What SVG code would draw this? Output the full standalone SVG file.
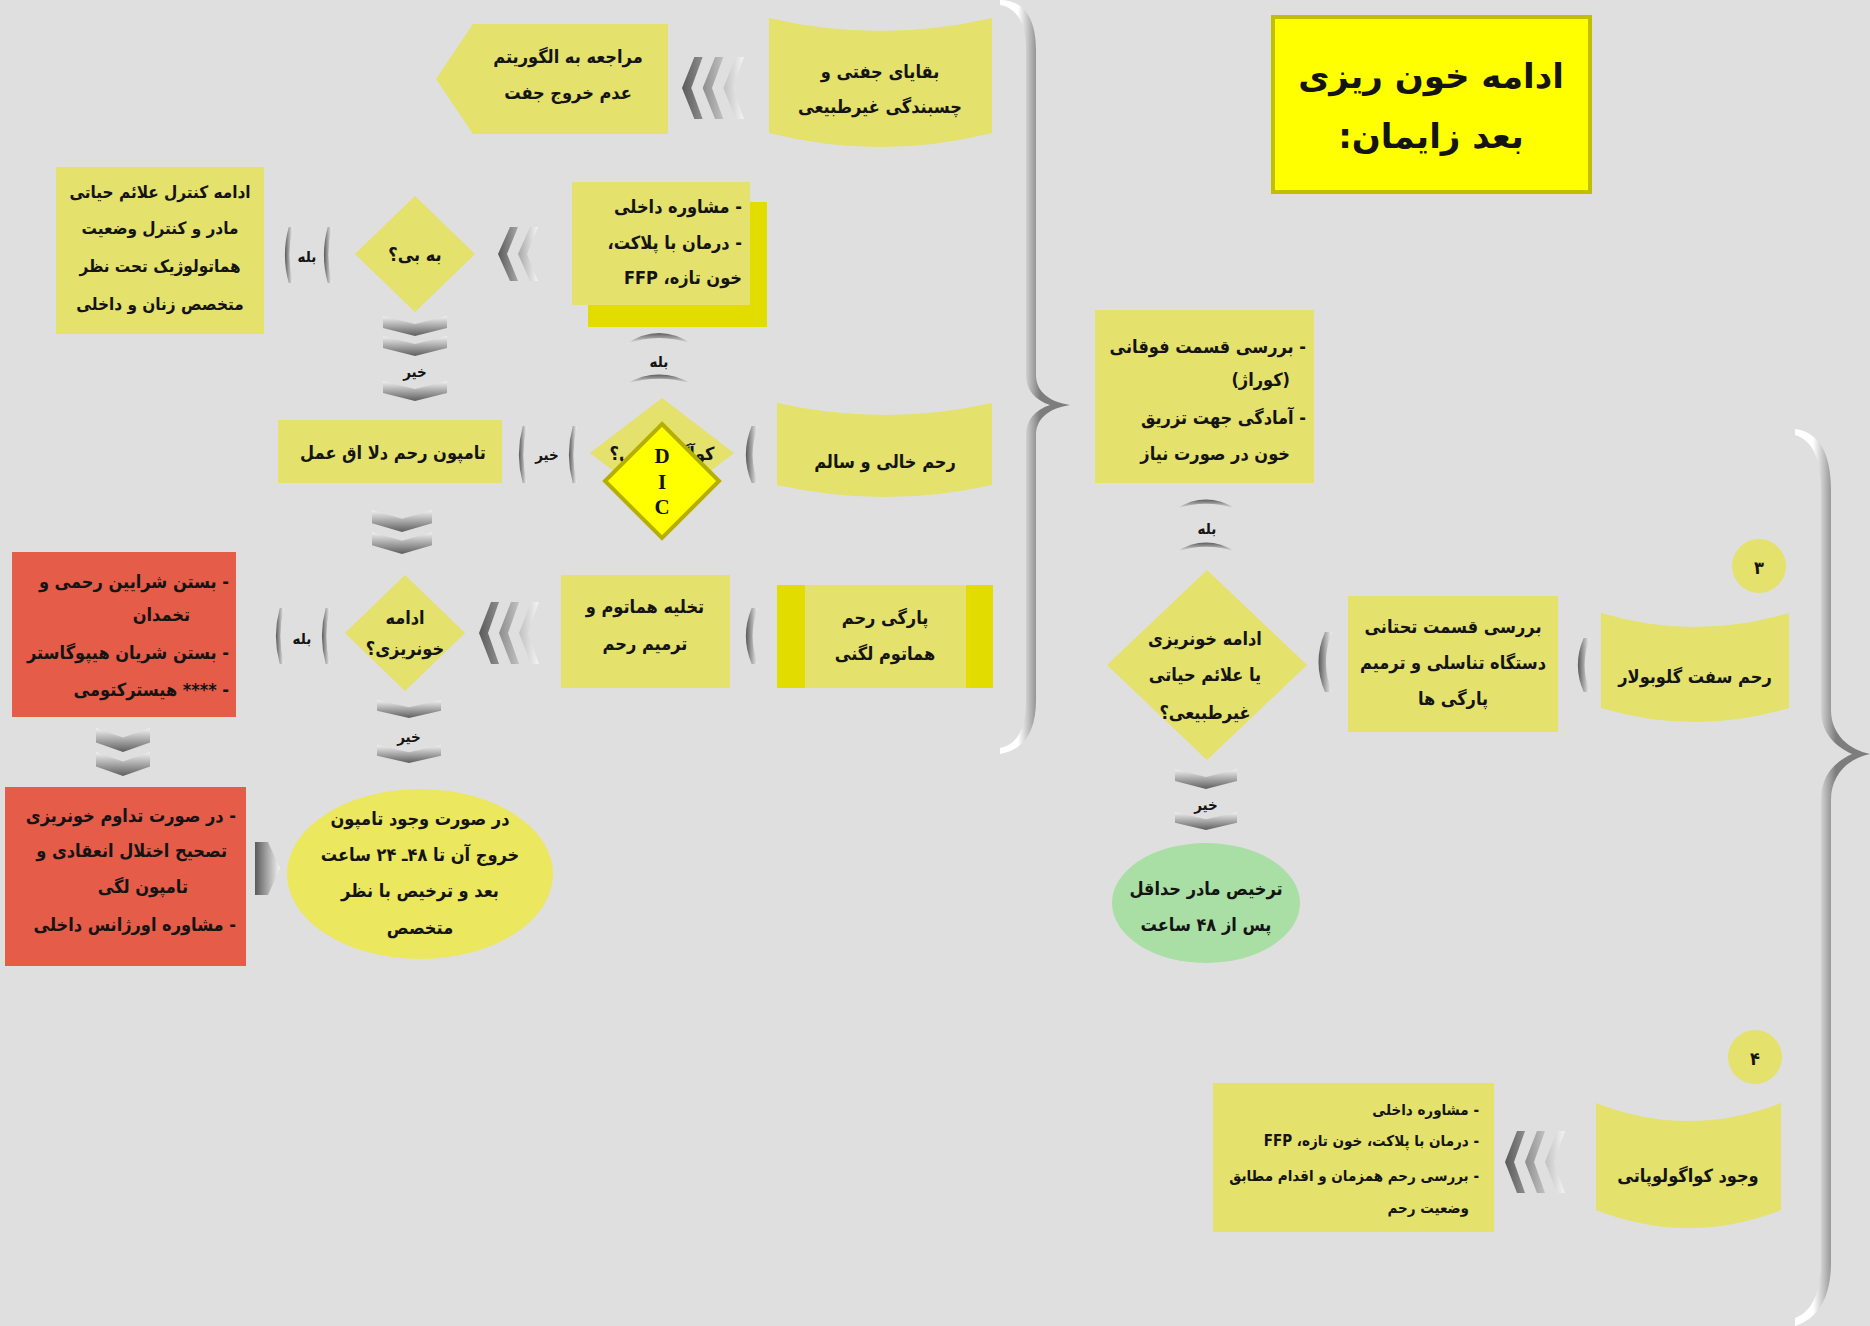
<svg xmlns="http://www.w3.org/2000/svg" width="1870" height="1326" viewBox="0 0 1870 1326">
<style>
.n{fill:#e4e16c}
.b{fill:#e2dc00}
.r{fill:#e55c48}
.t{font-family:"DejaVu Sans Condensed","DejaVu Sans",sans-serif;font-weight:bold;font-size:18px;fill:#141414;direction:rtl}
.c{text-anchor:middle}
.s{text-anchor:start}
.lab{font-family:"DejaVu Sans Condensed","DejaVu Sans",sans-serif;font-weight:bold;font-size:15px;fill:#141414;text-anchor:middle;direction:rtl}
</style>
<defs>
<linearGradient id="gh" x1="0" y1="0" x2="1" y2="0"><stop offset="0" stop-color="#5a5a5a"/><stop offset="1" stop-color="#f4f4f4"/></linearGradient>
<linearGradient id="gv" x1="0" y1="0" x2="0" y2="1"><stop offset="0" stop-color="#f2f2f2"/><stop offset="1" stop-color="#5e5e5e"/></linearGradient>
<linearGradient id="gu" x1="0" y1="0" x2="0" y2="1"><stop offset="0" stop-color="#5e5e5e"/><stop offset="1" stop-color="#f2f2f2"/></linearGradient>
<linearGradient id="gb1" gradientUnits="userSpaceOnUse" x1="1018" y1="0" x2="1040" y2="0"><stop offset="0" stop-color="#ffffff"/><stop offset="1" stop-color="#7d7d7d"/></linearGradient>
<linearGradient id="gb2" gradientUnits="userSpaceOnUse" x1="1813" y1="0" x2="1836" y2="0"><stop offset="0" stop-color="#ffffff"/><stop offset="1" stop-color="#7d7d7d"/></linearGradient>
<symbol id="ch1" viewBox="0 0 20 60" preserveAspectRatio="none"><path d="M13,0 Q0,30 13,60 L20,60 Q8,30 20,0 Z" fill="url(#gh)"/></symbol>
<symbol id="ch3" viewBox="0 0 60 60" preserveAspectRatio="none"><path d="M12,0 L0,30 L12,60 L20,60 L9,30 L20,0 Z M32,0 L20,30 L32,60 L40,60 L29,30 L40,0 Z M52,0 L40,30 L52,60 L60,60 L49,30 L60,0 Z" fill="url(#gh)"/></symbol>
<symbol id="ch2" viewBox="0 0 40 60" preserveAspectRatio="none"><path d="M12,0 L0,30 L12,60 L20,60 L9,30 L20,0 Z M32,0 L20,30 L32,60 L40,60 L29,30 L40,0 Z" fill="url(#gh)"/></symbol>
<symbol id="v1" viewBox="0 0 64 20" preserveAspectRatio="none"><path d="M0,0 L32,8 L64,0 L64,12 L32,20 L0,12 Z" fill="url(#gv)"/></symbol>
<symbol id="au" viewBox="0 0 64 14" preserveAspectRatio="none"><path d="M0,14 Q32,-8 64,14 Q32,2 0,14 Z" fill="url(#gu)"/></symbol>
</defs>
<rect width="1870" height="1326" fill="#dfdfdf"/>

<g id="connectors">
<path d="M1000,0 C1025,0 1036,20 1036,50 L1036,375 C1036,392 1050,402 1070,405 C1050,408 1036,418 1036,435 L1036,700 C1036,730 1025,750 1000,754 L1000,748 C1018,744 1026,728 1026,700 L1026,435 C1026,420 1035,410 1050,405 C1035,400 1026,390 1026,375 L1026,50 C1026,25 1018,8 1000,5 Z" fill="url(#gb1)"/>
<path d="M1795,429 C1820,432 1831,455 1831,490 L1831,710 C1831,735 1850,750 1870,754 C1850,758 1831,773 1831,800 L1831,1262 C1831,1295 1820,1318 1795,1326 L1795,1318 C1812,1312 1821,1292 1821,1262 L1821,800 C1821,775 1835,762 1852,754 C1835,746 1821,733 1821,710 L1821,490 C1821,458 1812,440 1795,435 Z" fill="url(#gb2)"/>
<use href="#ch3" x="682" y="57" width="62" height="62"/>
<use href="#ch2" x="498" y="227" width="40" height="54"/>
<use href="#ch1" x="281" y="227" width="12" height="56"/>
<use href="#ch1" x="320" y="227" width="12" height="56"/>
<text class="lab" x="307" y="262">بله</text>
<use href="#v1" x="383" y="316" width="64" height="20"/>
<use href="#v1" x="383" y="336" width="64" height="20"/>
<text class="lab" x="415" y="377">خیر</text>
<use href="#v1" x="383" y="381" width="64" height="20"/>
<use href="#au" x="626" y="330" width="66" height="14"/>
<text class="lab" x="659" y="367">بله</text>
<use href="#au" x="626" y="372" width="66" height="12"/>
<use href="#ch1" x="515" y="426" width="12" height="57"/>
<use href="#ch1" x="565" y="426" width="12" height="57"/>
<text class="lab" x="547" y="460">خیر</text>
<use href="#ch1" x="740" y="426" width="18" height="57"/>
<use href="#v1" x="372" y="510" width="60" height="22"/>
<use href="#v1" x="372" y="532" width="60" height="22"/>
<use href="#ch1" x="272" y="608" width="12" height="56"/>
<use href="#ch1" x="318" y="608" width="12" height="56"/>
<text class="lab" x="302" y="644">بله</text>
<use href="#ch3" x="479" y="602" width="60" height="62"/>
<use href="#ch1" x="740" y="608" width="18" height="56"/>
<use href="#v1" x="377" y="700" width="64" height="18"/>
<text class="lab" x="409" y="742">خیر</text>
<use href="#v1" x="377" y="745" width="64" height="18"/>
<use href="#v1" x="96" y="728" width="54" height="24"/>
<use href="#v1" x="96" y="752" width="54" height="24"/>
<path d="M255,842 L268,842 L280,868 L268,895 L255,895 Z" fill="url(#gh)"/>
<use href="#au" x="1176" y="497" width="60" height="12"/>
<text class="lab" x="1207" y="534">بله</text>
<use href="#au" x="1176" y="540" width="60" height="12"/>
<use href="#ch1" x="1312" y="632" width="20" height="60"/>
<use href="#ch1" x="1572" y="638" width="18" height="54"/>
<use href="#v1" x="1175" y="769" width="62" height="20"/>
<text class="lab" x="1206" y="810">خیر</text>
<use href="#v1" x="1175" y="812" width="62" height="18"/>
<use href="#ch3" x="1505" y="1131" width="60" height="62"/>
</g>

<g id="title">
<rect x="1273" y="17" width="317" height="175" fill="#ffff00" stroke="#c0c000" stroke-width="4"/>
<text class="t c" x="1431" y="88" style="font-family:'DejaVu Sans',sans-serif;font-size:34px">ادامه خون ریزی</text>
<text class="t c" x="1431" y="148" style="font-family:'DejaVu Sans',sans-serif;font-size:34px">بعد زایمان:</text>
</g>

<g id="n-algorithm">
<path class="n" d="M668,24 L473,24 L436,79 L473,134 L668,134 Z"/>
<text class="t c" x="568" y="63">مراجعه به الگوریتم</text>
<text class="t c" x="568" y="99">عدم خروج جفت</text>
</g>

<g id="n-placenta">
<path class="n" d="M769,18 Q880,44 992,18 L992,133 Q880,161 769,133 Z"/>
<text class="t c" x="880" y="78">بقایای جفتی و</text>
<text class="t c" x="880" y="113">چسبندگی غیرطبیعی</text>
</g>

<g id="n-consult">
<rect class="b" x="588" y="202" width="179" height="125"/>
<rect class="n" x="572" y="182" width="178" height="123"/>
<text class="t s" x="742" y="213">- مشاوره داخلی</text>
<text class="t s" x="742" y="249">- درمان با پلاکت،</text>
<text class="t s" x="742" y="284">خون تازه، FFP</text>
</g>

<g id="n-monitor">
<rect class="n" x="56" y="167" width="208" height="167"/>
<text class="t c" x="160" y="198" style="font-size:17px">ادامه کنترل علائم حیاتی</text>
<text class="t c" x="160" y="234" style="font-size:17px">مادر و کنترل وضعیت</text>
<text class="t c" x="160" y="272" style="font-size:17px">هماتولوژیک تحت نظر</text>
<text class="t c" x="160" y="310" style="font-size:17px">متخصص زنان و داخلی</text>
</g>

<g id="n-improve">
<path class="n" d="M415,196 L475,254 L415,312 L355,254 Z"/>
<text class="t c" x="415" y="261">به بی؟</text>
</g>

<g id="n-tampon">
<rect class="n" x="278" y="420" width="224" height="63"/>
<text class="t c" x="393" y="459">تامپون رحم دلا  اق عمل</text>
</g>

<g id="n-coag-q">
<path class="n" d="M662,398 L734,453 L662,508 L590,453 Z"/>
<text class="t c" x="662" y="460">کوآگولوپاتی؟</text>
</g>

<g id="n-dic">
<path d="M662,424 L719,481 L662,538 L605,481 Z" fill="#ffff00" stroke="#b5b000" stroke-width="4"/>
<text x="662" y="463" style="font-family:'Liberation Serif',serif;font-weight:bold;font-size:21px;text-anchor:middle;fill:#111">D</text>
<text x="662" y="489" style="font-family:'Liberation Serif',serif;font-weight:bold;font-size:21px;text-anchor:middle;fill:#111">I</text>
<text x="662" y="514" style="font-family:'Liberation Serif',serif;font-weight:bold;font-size:21px;text-anchor:middle;fill:#111">C</text>
</g>

<g id="n-empty">
<path class="n" d="M777,403 Q885,427 992,403 L992,485 Q885,509 777,485 Z"/>
<text class="t c" x="885" y="468">رحم خالی و سالم</text>
</g>

<g id="n-ligation">
<rect class="r" x="12" y="552" width="224" height="165"/>
<text class="t s" x="229" y="588">- بستن شرایین رحمی و</text>
<text class="t s" x="190" y="621">تخمدان</text>
<text class="t s" x="229" y="659">- بستن شریان هیپوگاستر</text>
<text class="t s" x="229" y="696">- **** هیسترکتومی</text>
</g>

<g id="n-bleed-q">
<path class="n" d="M405,575 L465,633 L405,691 L345,633 Z"/>
<text class="t c" x="405" y="624">ادامه</text>
<text class="t c" x="405" y="655">خونریزی؟</text>
</g>

<g id="n-evac">
<rect class="n" x="561" y="575" width="169" height="113"/>
<text class="t c" x="645" y="613">تخلیه هماتوم و</text>
<text class="t c" x="645" y="650">ترمیم رحم</text>
</g>

<g id="n-rupture">
<rect class="n" x="777" y="585" width="216" height="103"/>
<rect class="b" x="777" y="585" width="28" height="103"/>
<rect class="b" x="966" y="585" width="27" height="103"/>
<text class="t c" x="885" y="624">پارگی رحم</text>
<text class="t c" x="885" y="660">هماتوم لگنی</text>
</g>

<g id="n-correct">
<rect class="r" x="5" y="787" width="241" height="179"/>
<text class="t s" x="236" y="822">- در صورت تداوم خونریزی</text>
<text class="t s" x="227" y="857">تصحیح اختلال انعقادی و</text>
<text class="t s" x="188" y="893">تامپون لگی</text>
<text class="t s" x="236" y="931">- مشاوره اورژانس داخلی</text>
</g>

<g id="n-remove">
<ellipse cx="420" cy="874" rx="133" ry="85" fill="#ebe75e"/>
<text class="t c" x="420" y="825">در صورت وجود تامپون</text>
<text class="t c" x="420" y="861">خروج آن تا ۴۸ـ ۲۴ ساعت</text>
<text class="t c" x="420" y="897">بعد و ترخیص با نظر</text>
<text class="t c" x="420" y="934">متخصص</text>
</g>

<g id="n-upper">
<rect class="n" x="1095" y="310" width="219" height="173"/>
<text class="t s" x="1306" y="353">- بررسی قسمت فوقانی</text>
<text class="t s" x="1290" y="386">(کوراژ)</text>
<text class="t s" x="1306" y="424">- آمادگی جهت تزریق</text>
<text class="t s" x="1290" y="460">خون در صورت نیاز</text>
</g>

<g id="n-bleed-vitals-q">
<path class="n" d="M1207,570 L1307,665 L1207,760 L1107,665 Z"/>
<text class="t c" x="1205" y="645">ادامه خونریزی</text>
<text class="t c" x="1205" y="681">یا علائم حیاتی</text>
<text class="t c" x="1205" y="719">غیرطبیعی؟</text>
</g>

<g id="n-lower">
<rect class="n" x="1348" y="596" width="210" height="136"/>
<text class="t c" x="1453" y="633">بررسی قسمت تحتانی</text>
<text class="t c" x="1453" y="669">دستگاه تناسلی و ترمیم</text>
<text class="t c" x="1453" y="705">پارگی ها</text>
</g>

<g id="n-num3">
<circle cx="1759" cy="566" r="27" class="n"/>
<text class="t c" x="1759" y="574">۳</text>
</g>

<g id="n-globular">
<path class="n" d="M1601,613 Q1695,641 1789,613 L1789,708 Q1695,736 1601,708 Z"/>
<text class="t c" x="1695" y="683">رحم سفت گلوبولار</text>
</g>

<g id="n-discharge">
<ellipse cx="1206" cy="903" rx="94" ry="60" fill="#a9dfa4"/>
<text class="t c" x="1206" y="895">ترخیص مادر حداقل</text>
<text class="t c" x="1206" y="931">پس از ۴۸ ساعت</text>
</g>

<g id="n-num4">
<circle cx="1755" cy="1057" r="27" class="n"/>
<text class="t c" x="1755" y="1065">۴</text>
</g>

<g id="n-coag">
<path class="n" d="M1596,1103 Q1688,1139 1781,1103 L1781,1210 Q1688,1246 1596,1210 Z"/>
<text class="t c" x="1688" y="1182">وجود کواگولوپاتی</text>
</g>

<g id="n-coag-mgmt">
<rect class="n" x="1213" y="1083" width="281" height="149"/>
<text class="t s" x="1479" y="1115" style="font-size:15px">- مشاوره داخلی</text>
<text class="t s" x="1479" y="1146" style="font-size:15px">- درمان با پلاکت، خون تازه، FFP</text>
<text class="t s" x="1479" y="1181" style="font-size:15px">- بررسی رحم همزمان و اقدام مطابق</text>
<text class="t s" x="1469" y="1213" style="font-size:15px">وضعیت رحم</text>
</g>
</svg>
